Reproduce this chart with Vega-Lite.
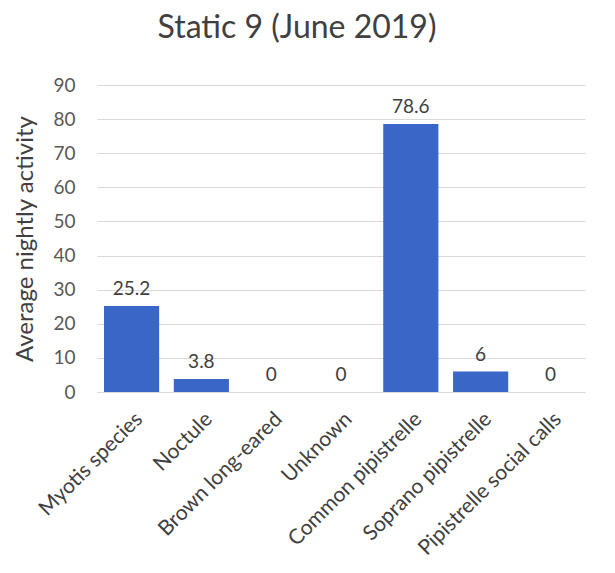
{
  "$schema": "https://vega.github.io/schema/vega-lite/v6.json",
  "autosize": "none",
  "width": 488,
  "height": 307,
  "padding": {"left": 97, "top": 85, "right": 30, "bottom": 181},
  "background": "white",
  "config": {"font": "Lato", "view": {"stroke": null}},
  "title": {"text": "Static 9 (June 2019)", "fontSize": 32, "fontWeight": "normal", "color": "#404040", "anchor": "middle", "dx": -44, "offset": 31, "font": "Lato"},
  "data": {"values": [
    {"species": "Myotis species", "activity": 25.2},
    {"species": "Noctule", "activity": 3.8},
    {"species": "Brown long-eared", "activity": 0},
    {"species": "Unknown", "activity": 0},
    {"species": "Common pipistrelle", "activity": 78.6},
    {"species": "Soprano pipistrelle", "activity": 6},
    {"species": "Pipistrelle social calls", "activity": 0}
  ]},
  "encoding": {
    "x": {"field": "species", "type": "nominal", "sort": null,
      "scale": {"paddingInner": 0.21, "paddingOuter": 0.1},
      "axis": {"title": null, "labelAngle": -45, "labelAlign": "right", "labelBaseline": "top", "labelFontSize": 21, "labelColor": "#404040", "ticks": false, "domainColor": "#d9d9d9", "labelPadding": 16, "labelLimit": 300}},
    "y": {"field": "activity", "type": "quantitative",
      "scale": {"domain": [0, 90]},
      "axis": {"title": "Average nightly activity", "titleFontSize": 24, "titleFontWeight": "normal", "titleColor": "#404040", "titleX": -60, "values": [0,10,20,30,40,50,60,70,80,90], "labelFontSize": 19, "labelColor": "#595959", "labelPadding": 22, "ticks": false, "domain": false, "gridColor": "#d9d9d9"}}
  },
  "layer": [
    {"mark": {"type": "bar", "color": "#3a66c8"}},
    {"mark": {"type": "text", "dy": -17, "fontSize": 19, "color": "#404040"}, "encoding": {"text": {"field": "activity", "type": "quantitative"}}}
  ]
}
